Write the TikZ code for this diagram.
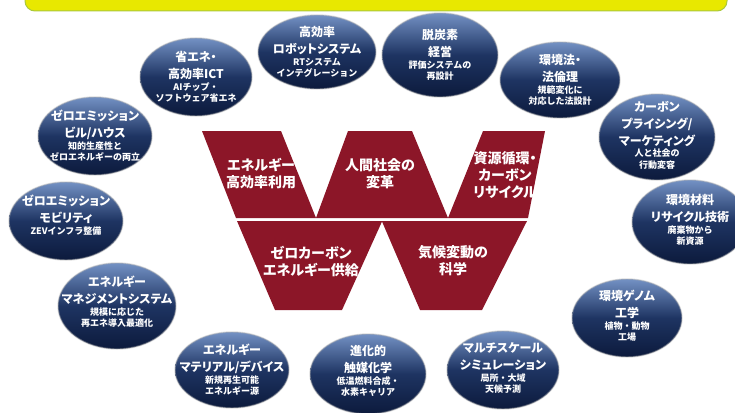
\documentclass[tikz,border=0pt]{standalone}
\usepackage{fontspec}
\newfontfamily\jp{Noto Sans CJK JP}[RawFeature=+palt]
\newfontfamily\jpsub{Noto Sans CJK JP}
\usetikzlibrary{shapes.geometric}
\pgfdeclarelayer{background}
\pgfsetlayers{background,main}
\definecolor{wred}{RGB}{140,22,40}
\definecolor{navy}{RGB}{12,26,60}
\definecolor{navytop}{RGB}{115,145,196}
\definecolor{navymid}{RGB}{30,52,98}
\definecolor{ybar}{RGB}{232,232,0}
\definecolor{ygreen}{RGB}{170,200,60}
\newcommand\bubtext[2]{{\jp\fontsize{12}{17}\selectfont #1\par}{\jpsub\fontsize{9}{11.5}\selectfont #2\par}}
\tikzset{
  bub/.style={ellipse, inner sep=0pt, top color=navytop, bottom color=navy, middle color=navymid, draw=black!30, draw opacity=0.45, line width=1.4pt},
  bubtxt/.style={text=white, align=center, text width=130pt, inner sep=0pt, font=\bfseries},
  wtxt/.style={text=white, align=center, inner sep=0pt, font=\jp\bfseries\fontsize{14}{17}\selectfont},
  ringline/.style={draw=navy, line width=5pt},
}
\begin{document}
\begin{tikzpicture}[x=1pt,y=-1pt]
\useasboundingbox (0,0) rectangle (735,412);
\fill[white] (0,0) rectangle (735,412);
% top bar
\filldraw[fill=ybar, draw=ygreen, line width=1pt, rounded corners=10pt] (25,-20) rectangle (727,11);
% W shape
\fill[wred] (202,131) -- (281,131) -- (316,218) -- (348,131) -- (412,131) -- (448,218) -- (483,131) -- (545,131) -- (528,218) -- (236,218) -- cycle;
\fill[wred] (237,221) -- (527,221) -- (482,310) -- (420,310) -- (382,221.5) -- (342,310) -- (275,310) -- cycle;
\node[wtxt] (w1) at (261,174) {エネルギー\\高効率利用};
\node[wtxt] (w2) at (380,174) {人間社会の\\変革};
\node[wtxt] (w3) at (505,175) {資源循環・\\カーボン\\リサイクル};
\node[wtxt] (w4) at (311,262) {ゼロカーボン\\エネルギー供給};
\node[wtxt] (w5) at (453,261) {気候変動の\\科学};
% bubbles
\node[bub, minimum width=112pt, minimum height=78pt] (ict) at (196,77) {};
\node[bub, minimum width=118pt, minimum height=74pt] (robot) at (317,52) {};
\node[bub, minimum width=116pt, minimum height=84pt] (dtanso) at (440,55) {};
\node[bub, minimum width=120pt, minimum height=76pt] (hoki) at (560,80) {};
\node[bub, minimum width=116pt, minimum height=86pt] (carbon) at (657,137) {};
\node[bub, minimum width=116pt, minimum height=84pt] (zairyo) at (690,222) {};
\node[bub, minimum width=110pt, minimum height=78pt] (genome) at (627,318) {};
\node[bub, minimum width=112pt, minimum height=78pt] (multi) at (503,370) {};
\node[bub, minimum width=116pt, minimum height=80pt] (shoku) at (368,374) {};
\node[bub, minimum width=114pt, minimum height=76pt] (mat) at (232,370) {};
\node[bub, minimum width=118pt, minimum height=86pt] (mgmt) at (117,306) {};
\node[bub, minimum width=114pt, minimum height=78pt] (mob) at (66,221) {};
\node[bub, minimum width=114pt, minimum height=78pt] (bill) at (95,136) {};
% ring
\begin{pgfonlayer}{background}
\draw[ringline] (ict.center) -- (robot.center) -- (dtanso.center) -- (hoki.center) -- (carbon.center) -- (zairyo.center) -- (genome.center) -- (multi.center) -- (shoku.center) -- (mat.center) -- (mgmt.center) -- (mob.center) -- (bill.center) -- (ict.center);
\end{pgfonlayer}
% bubble texts
\node[bubtxt] (ict-t) at (ict.center) {\bubtext{省エネ・\\高効率ICT}{AIチップ・\\ソフトウェア省エネ}};
\node[bubtxt] (robot-t) at (robot.center) {\bubtext{高効率\\ロボットシステム}{RTシステム\\インテグレーション}};
\node[bubtxt] (dtanso-t) at (dtanso.center) {\bubtext{脱炭素\\経営}{評価システムの\\再設計}};
\node[bubtxt] (hoki-t) at (hoki.center) {\bubtext{環境法・\\法倫理}{規範変化に\\対応した法設計}};
\node[bubtxt] (carbon-t) at ([yshift=2pt]carbon.center) {\bubtext{カーボン\\プライシング/\\マーケティング}{人と社会の\\行動変容}};
\node[bubtxt] (zairyo-t) at ([yshift=2pt]zairyo.center) {\bubtext{環境材料\\リサイクル技術}{廃棄物から\\新資源}};
\node[bubtxt] (genome-t) at ([yshift=2pt]genome.center) {\bubtext{環境ゲノム\\工学}{植物・動物\\工場}};
\node[bubtxt] (multi-t) at ([yshift=2pt]multi.center) {\bubtext{マルチスケール\\シミュレーション}{局所・大域\\天候予測}};
\node[bubtxt] (shoku-t) at ([yshift=3pt]shoku.center) {\bubtext{進化的\\触媒化学}{低温燃料合成・\\水素キャリア}};
\node[bubtxt] (mat-t) at (mat.center) {\bubtext{エネルギー\\マテリアル/デバイス}{新規再生可能\\エネルギー源}};
\node[bubtxt] (mgmt-t) at ([yshift=4pt]mgmt.center) {\bubtext{エネルギー\\マネジメントシステム}{規模に応じた\\再エネ導入最適化}};
\node[bubtxt] (mob-t) at ([yshift=6pt]mob.center) {\bubtext{ゼロエミッション\\モビリティ}{ZEVインフラ整備}};
\node[bubtxt] (bill-t) at (bill.center) {\bubtext{ゼロエミッション\\ビル/ハウス}{知的生産性と\\ゼロエネルギーの両立}};
\end{tikzpicture}
\end{document}
